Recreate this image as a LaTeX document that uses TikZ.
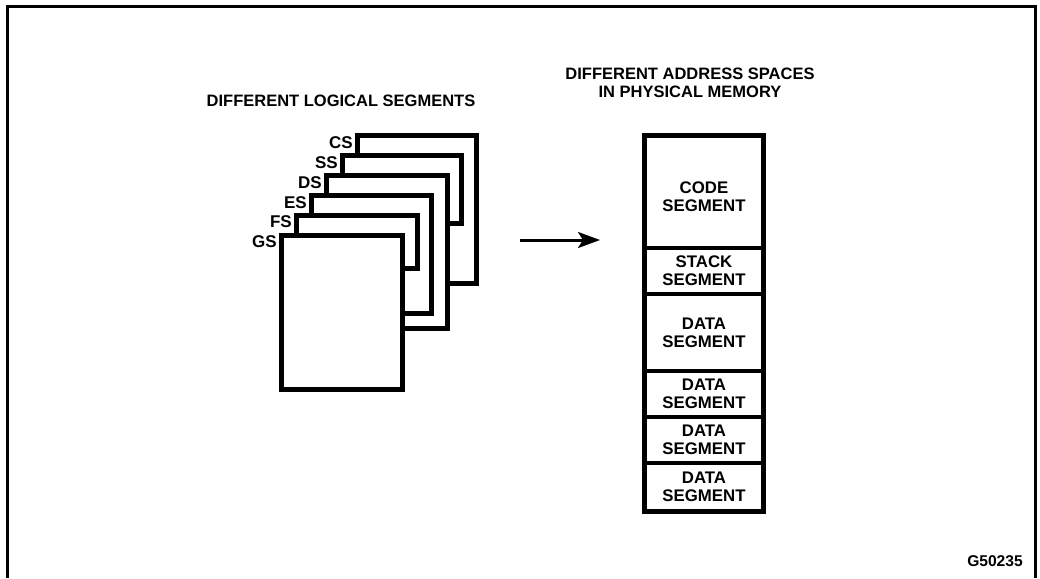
\documentclass[tikz,border=0pt]{standalone}
\usepackage{fontspec}
\setmainfont{Liberation Sans}
\usetikzlibrary{arrows.meta}
\tikzset{
  x=1pt,y=-1pt,
  page/.style={draw=black,fill=white,line width=5pt},
  seglabel/.style={font=\bfseries\fontsize{17}{17}\selectfont,anchor=east,inner sep=0pt},
  heading/.style={font=\bfseries\fontsize{16.5}{18}\selectfont,align=center,inner sep=0pt},
  memtext/.style={font=\bfseries\fontsize{16.8}{18}\selectfont,align=center,inner sep=0pt},
  mem/.style={draw=black,line width=5pt,fill=white},
  frame/.style={draw=black,line width=3pt},
}
\begin{document}
\begin{tikzpicture}
\useasboundingbox (0,0) rectangle (1040,578);
% frame (open at bottom)
\draw[frame] (7.5,578) -- (7.5,6.5) -- (1035.5,6.5) -- (1035.5,578);

% headings
\node[heading] (h1) at (341,101) {DIFFERENT LOGICAL SEGMENTS};
\node[heading] (h2) at (690,83) {DIFFERENT ADDRESS SPACES\\IN PHYSICAL MEMORY};

% stacked logical segments (back to front)
\draw[page] (357,135) rectangle (476,283);
\node[seglabel] (cs) at (353,143) {CS};
\draw[page] (342,155) rectangle (461,223);
\node[seglabel] (ss) at (338,163) {SS};
\draw[page] (326,175) rectangle (447,328);
\node[seglabel] (ds) at (322,183) {DS};
\draw[page] (311,195) rectangle (431,313);
\node[seglabel] (es) at (307,203) {ES};
\draw[page] (296,215) rectangle (417,268);
\node[seglabel] (fs) at (292,222) {FS};
\draw[page] (281,235) rectangle (402,389);
\node[seglabel] (gs) at (277,242) {GS};

% arrow
\coordinate (a0) at (520,240);
\coordinate (a1) at (600,240);
\draw[line width=3pt,-{Stealth[length=22pt,width=16pt,inset=5pt]}] (a0) -- (a1);

% physical memory
\draw[mem] (644,135) rectangle (763,511);
\foreach \yy in {248,294,371,417,463} \draw[line width=4.5pt] (644,\yy) -- (763,\yy);
\node[memtext] (m1) at (704,197) {CODE\\SEGMENT};
\node[memtext] (m2) at (704,271) {STACK\\SEGMENT};
\node[memtext] (m3) at (704,333) {DATA\\SEGMENT};
\node[memtext] (m4) at (704,394) {DATA\\SEGMENT};
\node[memtext] (m5) at (704,440) {DATA\\SEGMENT};
\node[memtext] (m6) at (704,487) {DATA\\SEGMENT};

\node[font=\bfseries\fontsize{15.6}{15.6}\selectfont,inner sep=0pt] (g) at (995,561) {G50235};
\end{tikzpicture}
\end{document}
